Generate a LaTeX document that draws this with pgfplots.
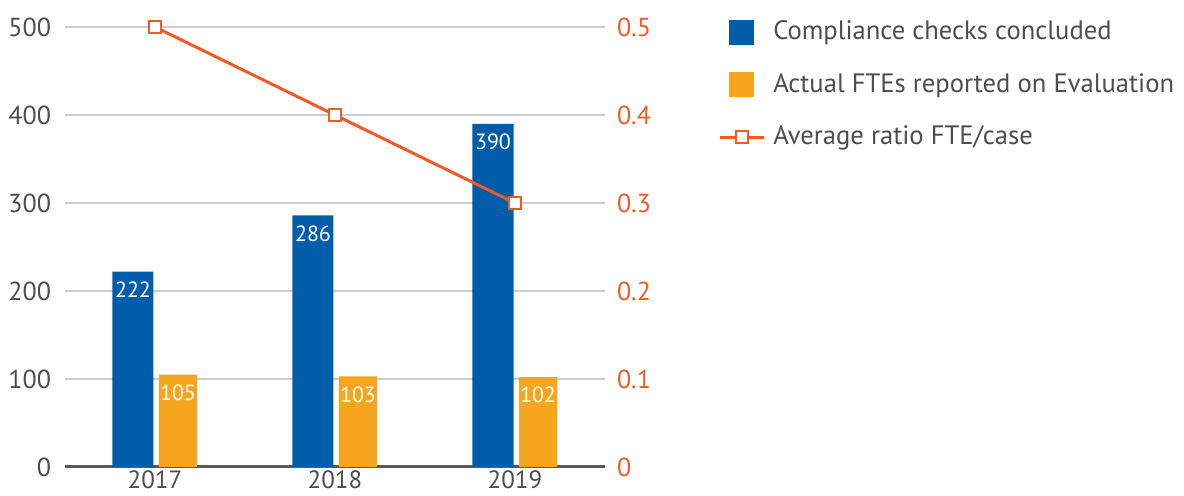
\documentclass[border=0pt]{standalone}
\usepackage{fontspec}
\setmainfont{PT Sans}
\usepackage{pgfplots}
\pgfplotsset{compat=1.18}
\definecolor{cblue}{HTML}{005DAA}
\definecolor{corange}{HTML}{F7A51E}
\definecolor{cline}{HTML}{F15A24}
\definecolor{textgray}{HTML}{4D4D4D}
\definecolor{gridgray}{HTML}{CCCCCC}
\definecolor{axisgray}{HTML}{595959}
\pgfplotsset{
  ratiolegend/.style={legend image code/.code={\draw[mark repeat=2,mark phase=2,##1] plot coordinates {(0pt,0pt) (11pt,0pt) (22pt,0pt)};}},
  boxlegend/.style={legend image code/.code={\fill[#1] (5pt,-6pt) rectangle (17pt,6pt);}},
}
\begin{document}
\begin{tikzpicture}
\useasboundingbox (-32.5pt,-14.5pt) rectangle (559.5pt,233.5pt);
% bars, left axis
\begin{axis}[
  scale only axis, width=270pt, height=220pt,
  xmin=-0.5, xmax=2.5, ymin=0, ymax=500,
  xtick={0,1,2}, xticklabels={2017,2018,2019},
  ytick={0,100,200,300,400,500},
  axis x line*=bottom, axis y line*=left,
  y axis line style={draw=none},
  x axis line style={draw=axisgray, line width=1.5pt, -},
  major tick length=0pt,
  ymajorgrids, grid style={gridgray, line width=0.6pt},
  tick label style={font=\fontsize{13}{15}\selectfont, text=textgray},
  yticklabel style={xshift=-3.5pt},
  xticklabel style={font=\fontsize{12.5}{14}\selectfont, yshift=1.5pt},
  /pgf/number format/assume math mode=true,
  ybar,
  nodes near coords,
  every node near coord/.append style={font=\fontsize{11}{13}\selectfont, text=white, anchor=center, yshift=-9pt},
]
\addplot[fill=cblue, draw=none, bar width=20.5pt, bar shift=-11pt] coordinates {(0,222) (1,286) (2,390)};
\addplot[fill=corange, draw=none, bar width=19pt, bar shift=11.5pt] coordinates {(0,105) (1,103) (2,102)};
\end{axis}
% ratio line, right axis
\begin{axis}[
  scale only axis, width=270pt, height=220pt,
  xmin=-0.5, xmax=2.5, ymin=0, ymax=0.5,
  axis y line*=right, axis x line=none,
  y axis line style={draw=none},
  ytick={0,0.1,0.2,0.3,0.4,0.5},
  major tick length=0pt,
  yticklabel style={font=\fontsize{13}{15}\selectfont, text=cline, xshift=2.5pt},
  /pgf/number format/assume math mode=true,
  legend cell align=left,
  legend style={draw=none, fill=none, inner sep=0pt, at={(1.209,1.02)}, anchor=north west,
    font=\fontsize{13.3}{16}\selectfont, text=textgray, row sep=12.75pt,
    nodes={inner sep=0pt, text height=10.5pt, text depth=3pt},
    /tikz/every odd column/.append style={column sep=4pt}},
]
\addlegendimage{boxlegend=cblue}
\addlegendentry{Compliance checks concluded}
\addlegendimage{boxlegend=corange}
\addlegendentry{Actual FTEs reported on Evaluation}
\addplot[cline, line width=1.5pt, mark=square*, mark size=3pt,
  mark options={fill=white, draw=cline, line width=1pt}, ratiolegend]
  coordinates {(0,0.5) (1,0.4) (2,0.3)};
\addlegendentry{Average ratio FTE/case}
\end{axis}
\end{tikzpicture}
\end{document}
